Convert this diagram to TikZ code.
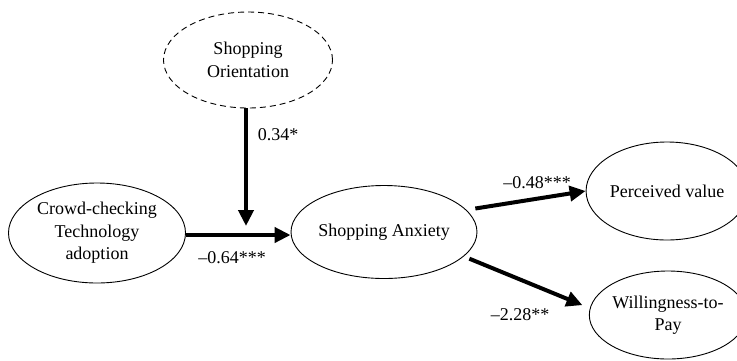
\documentclass[tikz,border=0pt]{standalone}
\usepackage{fontspec}
\setmainfont{Liberation Serif}
\usetikzlibrary{shapes.geometric,arrows.meta}
\begin{document}
\begin{tikzpicture}[x=1pt,y=1pt,
  var/.style={ellipse,draw,line width=0.9pt,inner sep=0pt,align=center,
    font=\fontsize{18}{22.5}\selectfont},
  path/.style={line width=4pt,-{Triangle[length=16pt,width=15pt]}},
  coef/.style={font=\fontsize{18}{22.5}\selectfont,inner sep=0pt}]
\useasboundingbox (0,0) rectangle (737,-360);
\node[var,dash pattern=on 6pt off 4pt,minimum width=169pt,minimum height=96pt] (so) at (248,-60) {Shopping\\Orientation};
\node[var,minimum width=177pt,minimum height=100pt] (ct) at (97,-233) {Crowd-checking\\Technology\\adoption};
\node[var,minimum width=178pt,minimum height=93pt] (sa) at (384,-232) {Shopping Anxiety};
\node[var,minimum width=148pt,minimum height=98pt] (pv) at (667,-191) {Perceived value};
\node[var,minimum width=148pt,minimum height=88pt] (wp) at (668,-315) {Willingness-to-\\Pay};
\coordinate (mod) at (246,-226);
\draw[path] (ct.east |- 0,-235) -- (sa.west |- 0,-235);
\draw[path] (so.south -| mod) -- (mod);
\draw[path,shorten <=9pt] (sa.15) -- (pv.west);
\draw[path,shorten <=6pt,shorten >=8pt] (sa.-17) -- (wp.175);
\node[coef] (c1) at (278,-135) {0.34*};
\node[coef] (c2) at (232,-258) {–0.64***};
\node[coef] (c3) at (537,-183) {–0.48***};
\node[coef] (c4) at (520,-315) {–2.28**};
\end{tikzpicture}
\end{document}
